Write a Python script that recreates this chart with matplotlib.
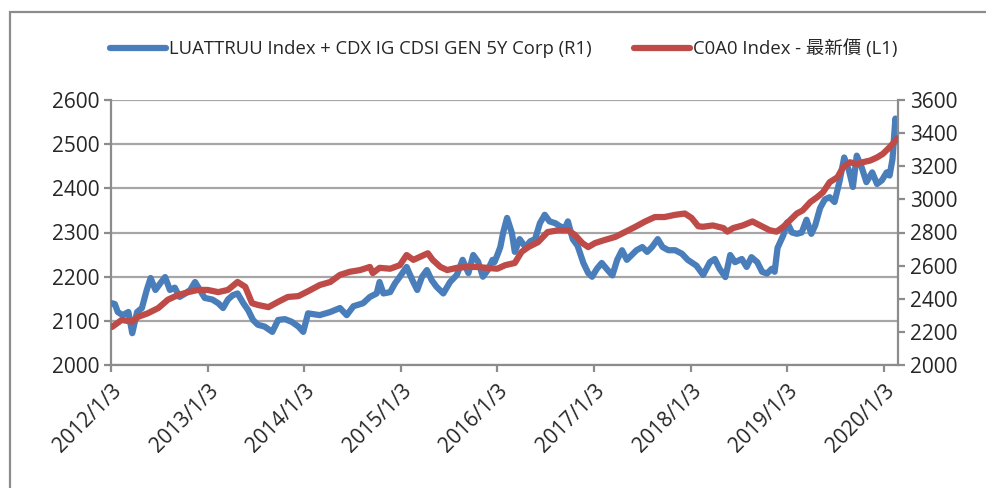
import matplotlib
matplotlib.use("Agg")
import matplotlib.pyplot as plt
from matplotlib.patches import Rectangle
from matplotlib.lines import Line2D

# ---- data (time in decimal years) ----
blue_t = [2012.01, 2012.04, 2012.07, 2012.12, 2012.18, 2012.22, 2012.27, 2012.32, 2012.37, 2012.41,
          2012.46, 2012.51, 2012.56, 2012.61, 2012.66, 2012.71, 2012.77, 2012.82, 2012.87, 2012.92,
          2012.97, 2013.05, 2013.11, 2013.16, 2013.21, 2013.26, 2013.31, 2013.37, 2013.42, 2013.47,
          2013.52, 2013.59, 2013.67, 2013.73, 2013.80, 2013.87, 2013.94, 2013.99, 2014.04, 2014.16,
          2014.27, 2014.37, 2014.44, 2014.51, 2014.61, 2014.68, 2014.75, 2014.78, 2014.82, 2014.89,
          2014.94, 2014.99, 2015.06, 2015.12, 2015.17, 2015.22, 2015.27, 2015.32, 2015.37, 2015.44,
          2015.51, 2015.58, 2015.64, 2015.70, 2015.75, 2015.80, 2015.85, 2015.90, 2015.95, 2015.97,
          2016.01, 2016.03, 2016.06, 2016.10, 2016.15, 2016.18, 2016.23, 2016.29, 2016.34, 2016.39,
          2016.44, 2016.49, 2016.54, 2016.60, 2016.65, 2016.70, 2016.73, 2016.78, 2016.83, 2016.89,
          2016.94, 2016.98, 2017.03, 2017.08, 2017.13, 2017.19, 2017.24, 2017.29, 2017.34, 2017.39,
          2017.44, 2017.50, 2017.55, 2017.60, 2017.66, 2017.71, 2017.77, 2017.84, 2017.91, 2017.97,
          2018.06, 2018.13, 2018.20, 2018.25, 2018.30, 2018.36, 2018.41, 2018.46, 2018.53, 2018.58,
          2018.63, 2018.69, 2018.74, 2018.79, 2018.84, 2018.87, 2018.90, 2018.96, 2019.00, 2019.05,
          2019.10, 2019.15, 2019.20, 2019.25, 2019.29, 2019.34, 2019.39, 2019.44, 2019.49, 2019.54,
          2019.59, 2019.64, 2019.68, 2019.72, 2019.77, 2019.82, 2019.88, 2019.93, 2019.98, 2020.03,
          2020.06, 2020.09, 2020.12, 2020.14]
blue_v = [2373, 2368, 2320, 2301, 2320, 2192, 2320, 2344, 2453, 2525,
          2453, 2493, 2531, 2453, 2467, 2411, 2432, 2453, 2501, 2453,
          2405, 2395, 2373, 2344, 2395, 2421, 2432, 2373, 2331, 2272,
          2243, 2232, 2200, 2272, 2277, 2261, 2232, 2200, 2312, 2301,
          2320, 2344, 2301, 2355, 2373, 2411, 2432, 2501, 2432, 2440,
          2493, 2533, 2592, 2512, 2453, 2533, 2573, 2512, 2472, 2432,
          2501, 2544, 2635, 2555, 2664, 2624, 2533, 2573, 2635, 2621,
          2680, 2712, 2800, 2888, 2797, 2683, 2760, 2712, 2747, 2760,
          2856, 2907, 2867, 2856, 2837, 2827, 2867, 2760, 2720, 2616,
          2555, 2533, 2581, 2616, 2581, 2541, 2635, 2693, 2635, 2664,
          2693, 2712, 2683, 2712, 2760, 2712, 2693, 2693, 2672, 2635,
          2600, 2544, 2621, 2640, 2581, 2531, 2664, 2621, 2640, 2592,
          2651, 2621, 2563, 2552, 2581, 2563, 2707, 2784, 2861, 2800,
          2792, 2800, 2877, 2792, 2843, 2947, 3000, 3013, 2984, 3104,
          3253, 3173, 3075, 3264, 3195, 3104, 3163, 3093, 3115, 3163,
          3144, 3243, 3488, 3360]

red_t = [2012.01, 2012.11, 2012.22, 2012.28, 2012.38, 2012.49, 2012.59, 2012.69, 2012.80, 2012.90,
         2013.00, 2013.11, 2013.21, 2013.31, 2013.39, 2013.46, 2013.52, 2013.63, 2013.73, 2013.83,
         2013.94, 2014.04, 2014.16, 2014.27, 2014.37, 2014.47, 2014.58, 2014.68, 2014.71, 2014.78,
         2014.89, 2014.99, 2015.06, 2015.13, 2015.20, 2015.28, 2015.33, 2015.41, 2015.48, 2015.58,
         2015.69, 2015.79, 2015.89, 2016.00, 2016.08, 2016.18, 2016.25, 2016.32, 2016.42, 2016.52,
         2016.63, 2016.73, 2016.80, 2016.88, 2016.94, 2017.01, 2017.11, 2017.22, 2017.32, 2017.42,
         2017.53, 2017.63, 2017.73, 2017.84, 2017.94, 2018.01, 2018.08, 2018.13, 2018.23, 2018.34,
         2018.38, 2018.44, 2018.54, 2018.64, 2018.72, 2018.82, 2018.89, 2018.96, 2019.03, 2019.10,
         2019.16, 2019.24, 2019.31, 2019.37, 2019.44, 2019.52, 2019.58, 2019.65, 2019.72, 2019.78,
         2019.86, 2019.93, 2019.99, 2020.06, 2020.14]
red_v = [2086, 2102, 2098, 2109, 2117, 2129, 2148, 2158, 2165, 2170,
         2170, 2165, 2170, 2188, 2177, 2140, 2136, 2131, 2143, 2154,
         2156, 2167, 2181, 2188, 2204, 2211, 2215, 2222, 2208, 2220,
         2218, 2226, 2249, 2238, 2245, 2253, 2238, 2222, 2215, 2220,
         2222, 2222, 2220, 2218, 2226, 2231, 2256, 2267, 2278, 2301,
         2305, 2305, 2295, 2276, 2267, 2276, 2283, 2290, 2301, 2312,
         2325, 2335, 2335, 2340, 2343, 2333, 2314, 2313, 2316, 2310,
         2302, 2310, 2316, 2325, 2316, 2305, 2302, 2313, 2328, 2343,
         2350, 2369, 2380, 2391, 2414, 2425, 2448, 2459, 2455, 2459,
         2463, 2470, 2478, 2493, 2513]

x_ticks = [2012, 2013, 2014, 2015, 2016, 2017, 2018, 2019, 2020]
x_labels = ["2012/1/3", "2013/1/3", "2014/1/3", "2015/1/3", "2016/1/3",
            "2017/1/3", "2018/1/3", "2019/1/3", "2020/1/3"]
left_ticks = [2000, 2100, 2200, 2300, 2400, 2500, 2600]
right_ticks = [2000, 2200, 2400, 2600, 2800, 3000, 3200, 3400, 3600]

blue_label = "LUATTRUU Index + CDX IG CDSI GEN 5Y Corp (R1)"
red_label = "C0A0 Index - 最新價 (L1)"

BLUE = "#4A7EBB"
RED = "#BE4B48"
GREY = "#8C8C8C"
GRID = "#A6A6A6"
TXT = "#262626"
FONT = ["Open Sans", "Noto Sans CJK TC", "DejaVu Sans"]

plt.rcParams["font.family"] = FONT

fig = plt.figure(figsize=(9.86, 4.88), dpi=100)
ax = fig.add_axes([111 / 986, 1 - 365 / 488, (898 - 111) / 986, 265 / 488])
ax2 = ax.twinx()
ax3 = ax.twinx()

# left axis
ax.set_ylim(2000, 2600)
ax.set_yticks(left_ticks)
ax.set_xlim(2012.0, 2020.147)
ax.set_xticks(x_ticks)
ax.set_xticklabels(x_labels, rotation=45, ha="right", va="top", rotation_mode="anchor")
ax.grid(axis="y", color=GRID, lw=1.6)
ax.set_axisbelow(True)
for s in ["top", "right"]:
    ax.spines[s].set_visible(False)
for s in ["left", "bottom"]:
    ax.spines[s].set_color(GREY)
    ax.spines[s].set_linewidth(1.6)
ax.tick_params(axis="both", colors=GREY, labelcolor=TXT, labelsize=15, length=5, width=1.6)
ax.tick_params(axis="x", pad=6)

# right axis (blue)
ax2.set_ylim(2000, 3600)
ax2.set_yticks(right_ticks)
for s in ["top", "left", "bottom"]:
    ax2.spines[s].set_visible(False)
ax2.spines["right"].set_color(GREY)
ax2.spines["right"].set_linewidth(1.6)
ax2.tick_params(axis="y", colors=GREY, labelcolor=TXT, labelsize=15, length=5, width=1.6)
ax2.plot(blue_t, blue_v, color=BLUE, lw=4.5, solid_joinstyle="round", solid_capstyle="round")

# red on top, same scale as left axis
ax3.set_ylim(2000, 2600)
ax3.set_yticks([])
for s in ax3.spines.values():
    s.set_visible(False)
ax3.plot(red_t, red_v, color=RED, lw=4.5, solid_joinstyle="round", solid_capstyle="round")

# legend
handles = [Line2D([], [], color=BLUE, lw=4.5, solid_capstyle="round"),
           Line2D([], [], color=RED, lw=4.5, solid_capstyle="round")]
leg = fig.legend(handles, [blue_label, red_label], loc="center",
                 bbox_to_anchor=(504 / 986, 1 - 49 / 488), ncol=2, frameon=False,
                 fontsize=13.3, handlelength=3.0, handletextpad=0.2, columnspacing=2.3)
for t in leg.get_texts():
    t.set_color(TXT)

# outer frame
fig.patches.append(Rectangle((10 / 986, -0.05), 1.1, 0.05 + 1 - 12 / 488, transform=fig.transFigure,
                             fill=False, edgecolor=GREY, lw=1.6))

fig.savefig("out.png", dpi=100)
